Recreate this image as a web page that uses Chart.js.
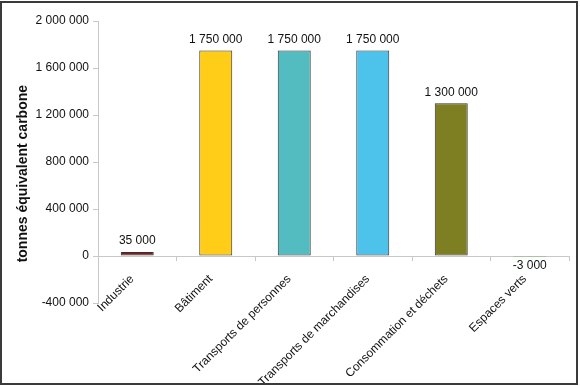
<!DOCTYPE html>
<html>
<head>
<meta charset="utf-8">
<script src="https://cdn.jsdelivr.net/npm/chart.js"></script>
<style>
  html, body { margin: 0; padding: 0; background: #fff; }
  #frame {
    position: absolute; left: 0; top: 1px;
    width: 578px; height: 384px;
    border: 2px solid #3a3a3a; box-sizing: border-box;
    background: #fff;
  }
  #chart { display: block; }
</style>
</head>
<body>
<div id="frame"><canvas id="chart" width="574" height="380"></canvas></div>
<script>
// secteurs et émissions (tonnes équivalent carbone)
const categories = ['Industrie', 'Bâtiment', 'Transports de personnes', 'Transports de marchandises', 'Consommation et déchets', 'Espaces verts'];
const emissions = [35000, 1750000, 1750000, 1750000, 1300000, -3000];
const barColors = ['#861818', '#FFCD18', '#53BCC0', '#4DC2EB', '#7E7E22', '#5BA83A'];
const yMin = -400000;
const yMax = 2000000;
const yStep = 400000;

const fmt = v => String(Math.round(v)).replace(/\B(?=(\d{3})+(?!\d))/g, ' ');

const valueLabels = {
  id: 'valueLabels',
  afterDatasetsDraw(chart) {
    const ctx = chart.ctx;
    const meta = chart.getDatasetMeta(0);
    ctx.save();
    ctx.font = '12px "Liberation Sans", Arial, sans-serif';
    ctx.fillStyle = '#111';
    ctx.textAlign = 'center';
    meta.data.forEach((bar, i) => {
      const v = emissions[i];
      if (v >= 0) {
        ctx.textBaseline = 'bottom';
        ctx.fillText(fmt(v), bar.x, bar.y - 5);
      } else {
        ctx.textBaseline = 'top';
        ctx.fillText(fmt(v), bar.x, bar.y + 3);
      }
    });
    ctx.restore();
  }
};

new Chart(document.getElementById('chart'), {
  type: 'bar',
  data: {
    labels: categories,
    datasets: [{
      data: emissions,
      backgroundColor: barColors,
      borderColor: '#333',
      borderWidth: [1, 1, 1, 1, 1, 0],
      borderSkipped: false,
      barPercentage: 0.84,
      categoryPercentage: 0.5
    }]
  },
  options: {
    responsive: false,
    animation: false,
    layout: { padding: { left: 9, right: 7, top: 18, bottom: 80 } },
    plugins: { legend: { display: false }, tooltip: { enabled: false } },
    scales: {
      x: {
        position: { y: 0 },
        afterFit: s => { s.height = 0; },
        grid: { drawOnChartArea: false, drawTicks: true, tickLength: 4, color: '#c8c8c8' },
        border: { color: '#c8c8c8' },
        ticks: {
          autoSkip: false, minRotation: 45, maxRotation: 45, padding: 12, labelOffset: -5,
          color: '#111',
          font: { family: '"Liberation Sans", Arial, sans-serif', size: 12 }
        }
      },
      y: {
        min: yMin, max: yMax,
        afterFit: s => { s.width = 87; },
        grid: { drawOnChartArea: false, drawTicks: true, tickLength: 5, color: '#c8c8c8' },
        border: { color: '#c8c8c8' },
        ticks: {
          stepSize: yStep, padding: 4, color: '#111',
          font: { family: '"Liberation Sans", Arial, sans-serif', size: 12 },
          callback: v => fmt(v)
        },
        title: {
          display: true, text: 'tonnes équivalent carbone\u00a0\u00a0\u00a0\u00a0\u00a0\u00a0', color: '#111',
          padding: { top: 4, bottom: 4 },
          font: { family: '"Liberation Sans", Arial, sans-serif', size: 14, weight: 'bold' }
        }
      }
    }
  },
  plugins: [valueLabels]
});
</script>
</body>
</html>
